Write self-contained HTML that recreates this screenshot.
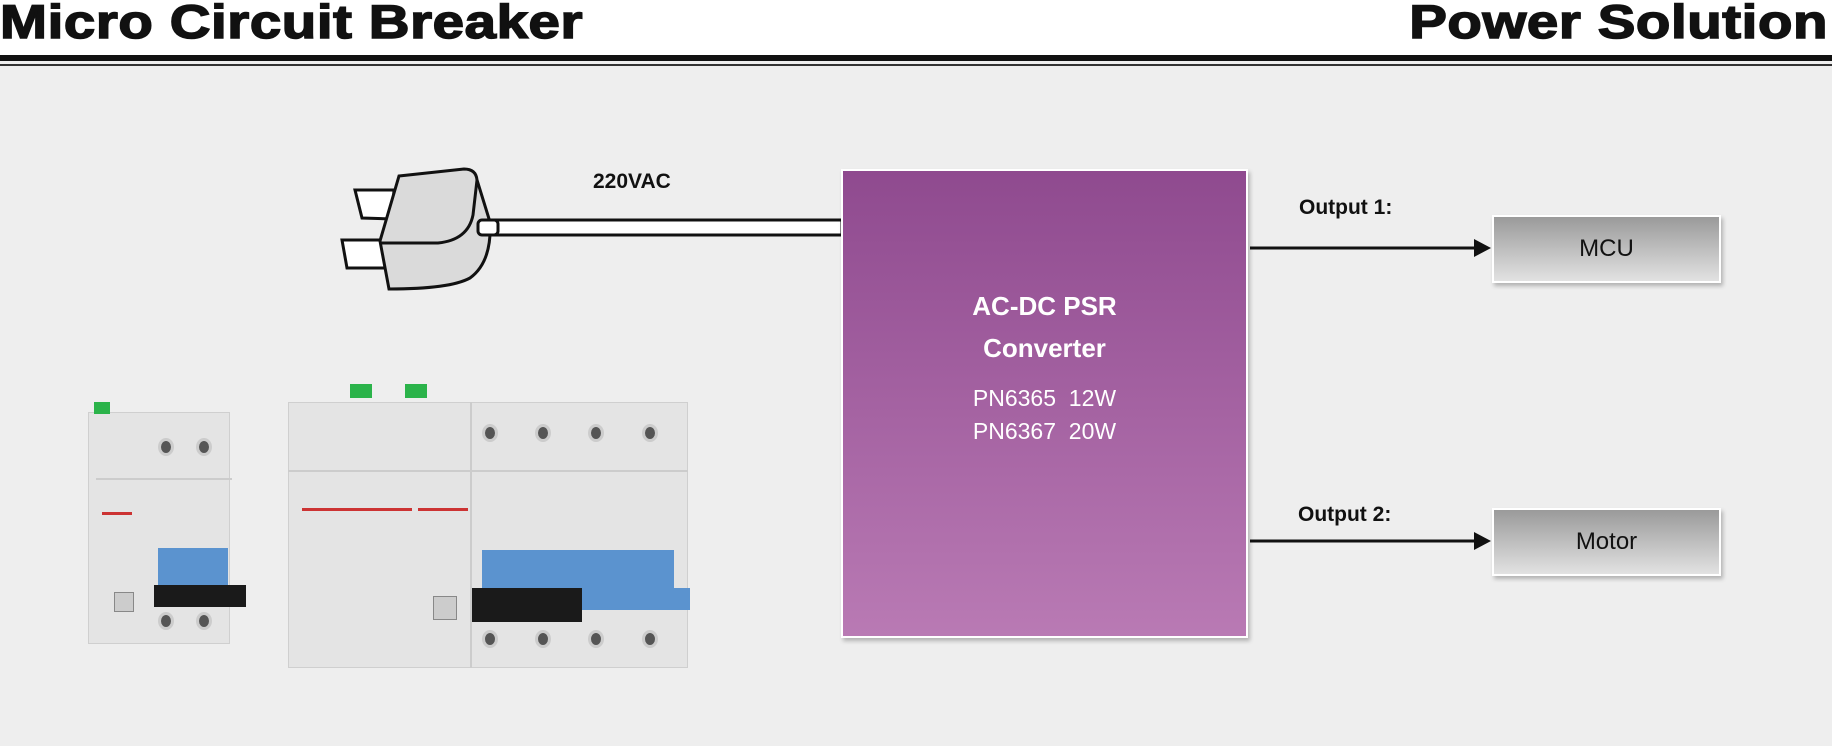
<!DOCTYPE html>
<html><head><style>
*{margin:0;padding:0;box-sizing:border-box}
body{width:1832px;height:746px;overflow:hidden;background:#eeeeee;position:relative;font-family:"Liberation Sans",sans-serif}
.abs{position:absolute}
.hdr{position:absolute;top:0;left:0;width:1832px;height:56px;background:#fff}
.title{position:absolute;top:-6px;font-weight:bold;font-size:47px;color:#111;letter-spacing:0.5px;-webkit-text-stroke:1.5px #111}
.conv{left:841px;top:169px;width:407px;height:469px;background:linear-gradient(#8f4a8f,#b97ab4);border:2px solid #fff;box-shadow:2px 3px 4px rgba(0,0,0,0.25);color:#fff;text-align:center}
.outbox{width:229px;height:68px;background:linear-gradient(#9a9a9a,#e2e2e2);border:2px solid #fff;box-shadow:2px 3px 4px rgba(0,0,0,0.25);font-size:24px;color:#111;text-align:center;line-height:64px}
.lbl{font-weight:bold;font-size:21px;color:#111}
.screw{position:absolute;width:16px;height:18px;border-radius:50%;background:#555;border:3px solid #ccc}
.body{position:absolute;background:#e4e4e4;border:1px solid #cfcfcf}
</style></head><body>
<div class="hdr"></div>
<div class="title" style="left:0;transform:scaleX(1.2);transform-origin:left top">Micro Circuit Breaker</div>
<div class="title" style="right:4px;transform:scaleX(1.2);transform-origin:right top">Power Solution</div>
<div class="abs" style="left:0;top:55px;width:1832px;height:6px;background:#111"></div>
<div class="abs" style="left:0;top:64px;width:1832px;height:2px;background:#333"></div>

<svg class="abs" style="left:0;top:0" width="1832" height="746">
  <rect x="490" y="220" width="352" height="15" fill="#fff" stroke="#111" stroke-width="3"/>
  <path d="M394,190 L355,190 L362,218 L392,219 Z" fill="#fff" stroke="#111" stroke-width="3"/>
  <path d="M382,240 L342,240 L347,268 L386,268 Z" fill="#fff" stroke="#111" stroke-width="3"/>
  <path d="M399,176 L464,169 Q476,169 477,180 L490,222 Q492,262 470,278 Q450,289 389,289 L380,241 Z" fill="#dadada" stroke="#111" stroke-width="3"/>
  <path d="M477,180 L473,215 Q468,240 438,243 L380,243" fill="none" stroke="#111" stroke-width="3"/>
  <rect x="478" y="220" width="20" height="15" rx="4" fill="#fff" stroke="#111" stroke-width="3"/>
  <line x1="1250" y1="248" x2="1476" y2="248" stroke="#111" stroke-width="3"/>
  <polygon points="1474,239 1491,248 1474,257" fill="#111"/>
  <line x1="1250" y1="541" x2="1476" y2="541" stroke="#111" stroke-width="3"/>
  <polygon points="1474,532 1491,541 1474,550" fill="#111"/>
</svg>
<div class="abs lbl" style="left:593px;top:170px">220VAC</div>
<div class="abs lbl" style="left:1299px;top:196px">Output 1:</div>
<div class="abs lbl" style="left:1298px;top:503px">Output 2:</div>

<div class="abs conv">
  <div style="position:absolute;top:120px;width:100%;font-weight:bold;font-size:26px">AC-DC PSR</div>
  <div style="position:absolute;top:162px;width:100%;font-weight:bold;font-size:26px">Converter</div>
  <div style="position:absolute;top:214px;width:100%;font-size:23px">PN6365&nbsp; 12W</div>
  <div style="position:absolute;top:247px;width:100%;font-size:23px">PN6367&nbsp; 20W</div>
</div>
<div class="abs outbox" style="left:1492px;top:215px">MCU</div>
<div class="abs outbox" style="left:1492px;top:508px">Motor</div>

<!-- small breaker -->
<div class="body" style="left:88px;top:412px;width:142px;height:232px"></div>
<div class="abs" style="left:94px;top:402px;width:16px;height:12px;background:#2bb34a"></div>
<div class="screw" style="left:158px;top:438px"></div><div class="screw" style="left:196px;top:438px"></div>
<div class="abs" style="left:96px;top:478px;width:136px;height:2px;background:#ccc"></div>
<div class="abs" style="left:102px;top:512px;width:30px;height:3px;background:#c33"></div>
<div class="abs" style="left:158px;top:548px;width:70px;height:40px;background:#5b93cf"></div>
<div class="abs" style="left:154px;top:585px;width:92px;height:22px;background:#1a1a1a"></div>
<div class="screw" style="left:158px;top:612px"></div><div class="screw" style="left:196px;top:612px"></div>
<div class="abs" style="left:114px;top:592px;width:20px;height:20px;background:#ccc;border:1px solid #888"></div>

<!-- large breaker -->
<div class="body" style="left:288px;top:402px;width:400px;height:266px"></div>
<div class="abs" style="left:350px;top:384px;width:22px;height:14px;background:#2bb34a"></div>
<div class="abs" style="left:405px;top:384px;width:22px;height:14px;background:#2bb34a"></div>
<div class="abs" style="left:288px;top:470px;width:400px;height:2px;background:#ccc"></div>
<div class="abs" style="left:470px;top:402px;width:2px;height:266px;background:#ccc"></div>
<div class="screw" style="left:482px;top:424px"></div><div class="screw" style="left:535px;top:424px"></div>
<div class="screw" style="left:588px;top:424px"></div><div class="screw" style="left:642px;top:424px"></div>
<div class="abs" style="left:302px;top:508px;width:110px;height:3px;background:#c33"></div>
<div class="abs" style="left:418px;top:508px;width:50px;height:3px;background:#c33"></div>
<div class="abs" style="left:482px;top:550px;width:192px;height:40px;background:#5b93cf"></div>
<div class="abs" style="left:472px;top:588px;width:110px;height:34px;background:#1a1a1a"></div>
<div class="abs" style="left:582px;top:588px;width:108px;height:22px;background:#5b93cf"></div>
<div class="screw" style="left:482px;top:630px"></div><div class="screw" style="left:535px;top:630px"></div>
<div class="screw" style="left:588px;top:630px"></div><div class="screw" style="left:642px;top:630px"></div>
<div class="abs" style="left:433px;top:596px;width:24px;height:24px;background:#ccc;border:1px solid #888"></div>
</body></html>
